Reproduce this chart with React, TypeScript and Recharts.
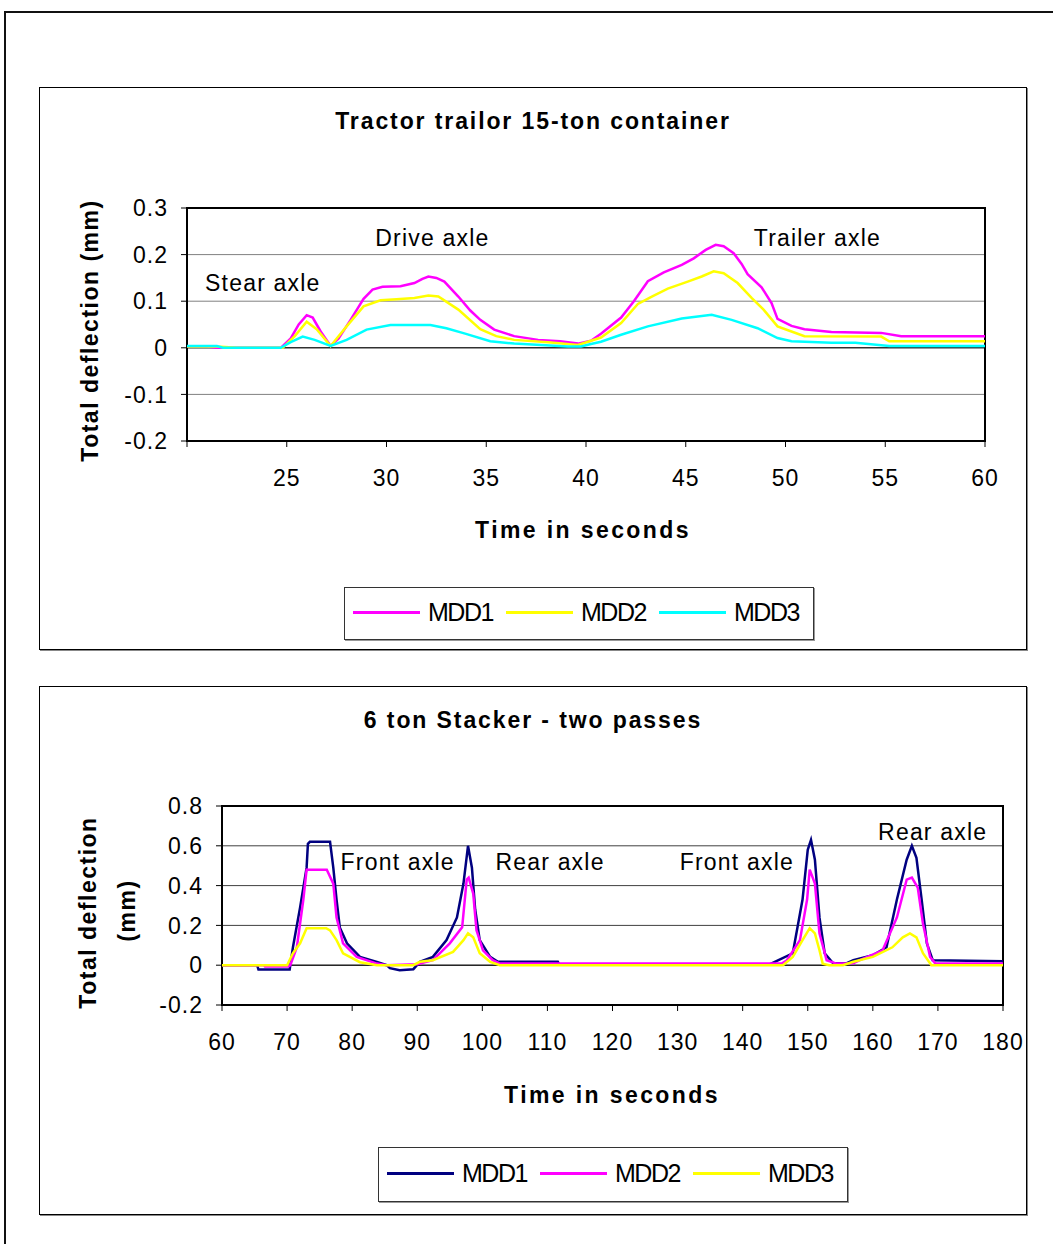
import React from "react"
import {
  LineChart,
  Line,
  XAxis,
  YAxis,
  CartesianGrid,
  ReferenceLine,
  ReferenceArea,
  ReferenceDot,
} from "recharts"

const FONT = '"Liberation Sans", Arial, sans-serif'

// --- Tractor trailor 15-ton container (time in s, deflection in mm) ---
const tractorMdd1Time = [20, 21, 21.5, 24.7, 25.2, 25.6, 26, 26.3, 26.7, 27.2, 27.6, 28.2, 28.85, 29.3, 29.8, 30.7, 31.4, 31.8, 32.1, 32.5, 32.9, 33.6, 34.2, 34.7, 35.4, 36.4, 37.6, 38.7, 39.6, 40.25, 40.75, 41.76, 42.4, 43.1, 43.9, 44.8, 45.4, 46, 46.5, 46.9, 47.4, 47.8, 48.1, 48.8, 49.3, 49.6, 50.3, 50.95, 52.3, 54.8, 55.8, 60]
const tractorMdd1 = [0.003, 0.003, 0, 0, 0.02, 0.05, 0.07, 0.065, 0.035, 0.004, 0.02, 0.06, 0.105, 0.125, 0.131, 0.132, 0.139, 0.148, 0.153, 0.15, 0.142, 0.11, 0.08, 0.06, 0.039, 0.025, 0.017, 0.014, 0.009, 0.015, 0.03, 0.065, 0.1, 0.143, 0.162, 0.178, 0.192, 0.21, 0.221, 0.218, 0.203, 0.18, 0.158, 0.13, 0.096, 0.062, 0.047, 0.04, 0.034, 0.032, 0.025, 0.025]

const tractorMdd2Time = [20, 21.5, 22.5, 24.8, 25.4, 26, 26.5, 27.2, 28, 28.85, 29.7, 30.5, 31.4, 32.1, 32.6, 33.6, 34.7, 35.5, 36.4, 38.1, 39.6, 40.75, 41.76, 42.6, 43.3, 44.1, 45.1, 45.8, 46.4, 46.9, 47.6, 48.3, 48.9, 49.6, 50.3, 50.95, 54.8, 55.2, 60]
const tractorMdd2 = [0.003, 0.003, 0, 0, 0.025, 0.056, 0.04, 0.004, 0.046, 0.089, 0.102, 0.104, 0.107, 0.112, 0.11, 0.082, 0.04, 0.025, 0.017, 0.012, 0.006, 0.022, 0.053, 0.094, 0.11, 0.127, 0.142, 0.153, 0.164, 0.16, 0.139, 0.107, 0.082, 0.046, 0.035, 0.025, 0.024, 0.014, 0.014]

const tractorMdd3Time = [20, 21.5, 21.8, 24.7, 25.2, 25.8, 26.4, 27.2, 28, 29, 30.2, 32.2, 33, 33.9, 35.2, 36.4, 39.1, 39.75, 40.25, 40.75, 41.76, 43.1, 44.8, 46.3, 47.3, 48.6, 49.6, 50.3, 52.3, 53.5, 55.2, 60]
const tractorMdd3 = [0.004, 0.004, 0, 0, 0.012, 0.024, 0.017, 0.004, 0.017, 0.039, 0.049, 0.049, 0.042, 0.031, 0.014, 0.009, 0.003, 0.003, 0.008, 0.013, 0.028, 0.046, 0.063, 0.071, 0.06, 0.042, 0.021, 0.014, 0.011, 0.011, 0.004, 0.004]

const tractorXTicks = [20, 25, 30, 35, 40, 45, 50, 55, 60]
const tractorYTicks = [-0.2, -0.1, 0, 0.1, 0.2, 0.3]
const tractorNotes = [
  { label: "Stear axle", t: 23.8, v: 0.14 },
  { label: "Drive axle", t: 32.3, v: 0.236 },
  { label: "Trailer axle", t: 51.6, v: 0.236 },
]

// --- 6 ton Stacker - two passes ---
const stackerMdd1Time = [60, 65.4, 65.6, 70.4, 70.9, 72, 73, 73.2, 73.5, 76.6, 77.1, 77.6, 78.1, 79.2, 81.2, 83.8, 85.3, 85.8, 87.3, 89.4, 90.4, 92.4, 94.5, 96.1, 97.1, 97.8, 98.4, 98.9, 99.6, 101.2, 102.4, 111.6, 111.8, 144.2, 147.7, 149.2, 150, 150.5, 151.1, 151.8, 152.6, 153.9, 156, 157, 160, 162.1, 163.7, 165.2, 166, 166.7, 167.5, 168.3, 169.2, 180]
const stackerMdd1 = [0, 0, -0.022, -0.022, 0.09, 0.29, 0.49, 0.61, 0.62, 0.62, 0.49, 0.33, 0.19, 0.11, 0.042, 0.017, 0, -0.015, -0.025, -0.02, 0.017, 0.042, 0.126, 0.24, 0.41, 0.6, 0.49, 0.28, 0.126, 0.042, 0.017, 0.017, 0.005, 0.005, 0.06, 0.33, 0.58, 0.63, 0.53, 0.24, 0.06, 0.01, 0.01, 0.025, 0.05, 0.09, 0.33, 0.53, 0.6, 0.54, 0.33, 0.11, 0.025, 0.02]

const stackerMdd2Time = [60, 66.4, 66.6, 70.2, 70.5, 71.5, 72.5, 73, 76.1, 77.1, 77.6, 78.6, 80.7, 83.8, 85.3, 90, 92.4, 95, 96.9, 97.6, 97.9, 98.6, 99.1, 100.1, 101.6, 102.7, 146, 146.8, 148.8, 149.9, 150.3, 151.1, 151.8, 152.9, 154.4, 157, 158, 161.5, 163.7, 165.2, 166, 166.9, 167.7, 168.8, 169.6, 180]
const stackerMdd2 = [0, 0, -0.006, -0.006, 0, 0.09, 0.33, 0.48, 0.48, 0.41, 0.24, 0.11, 0.042, 0.008, 0, 0.005, 0.025, 0.11, 0.19, 0.43, 0.44, 0.36, 0.176, 0.075, 0.025, 0.008, 0.008, 0.025, 0.126, 0.33, 0.48, 0.41, 0.16, 0.025, 0.008, 0.01, 0.025, 0.075, 0.24, 0.43, 0.44, 0.39, 0.21, 0.042, 0.008, 0.008]

const stackerMdd3Time = [60, 70, 70.9, 72, 73, 76, 76.6, 77.6, 78.6, 81.2, 83.8, 89.4, 90.4, 92.4, 95.5, 97.1, 97.8, 98.6, 99.6, 101.2, 102.7, 146.2, 147.7, 149.2, 150.3, 151.1, 151.8, 152.3, 153.3, 155.4, 157, 160, 163, 164.6, 165.7, 166.7, 167.7, 169, 180]
const stackerMdd3 = [0, 0, 0.06, 0.11, 0.186, 0.186, 0.175, 0.126, 0.06, 0.015, 0, 0, 0.017, 0.025, 0.067, 0.126, 0.16, 0.14, 0.06, 0.017, 0, 0, 0.042, 0.126, 0.186, 0.16, 0.075, 0.008, 0, 0, 0.017, 0.042, 0.09, 0.14, 0.16, 0.14, 0.06, 0, 0]

const stackerXTicks = [60, 70, 80, 90, 100, 110, 120, 130, 140, 150, 160, 170, 180]
const stackerYTicks = [-0.2, 0, 0.2, 0.4, 0.6, 0.8]
const stackerNotes = [
  { label: "Front axle", t: 87.0, v: 0.52 },
  { label: "Rear axle", t: 110.4, v: 0.52 },
  { label: "Front axle", t: 139.1, v: 0.52 },
  { label: "Rear axle", t: 169.2, v: 0.67 },
]

const toPoints = (times: number[], values: number[]) =>
  times.map((t, i) => ({ t, v: values[i] }))

const tickStyle = { fontSize: 23, fill: "#000", fontFamily: FONT, letterSpacing: 1 }

const NoteText = (label: string) => (p: any) => (
  <text
    x={p.cx}
    y={p.cy}
    textAnchor="middle"
    dominantBaseline="central"
    fontSize={23}
    fontFamily={FONT}
    fill="#000"
    style={{ letterSpacing: 1.2 }}
  >
    {label}
  </text>
)

interface SeriesDef {
  name: string
  color: string
  data: { t: number; v: number }[]
}

const boxStyle: React.CSSProperties = {
  position: "absolute",
  left: 39,
  width: 986,
  border: "1px solid #000",
  boxShadow: "1px 1px 0 #888",
  background: "#fff",
}

const textBase: React.CSSProperties = {
  position: "absolute",
  fontFamily: FONT,
  color: "#000",
  whiteSpace: "nowrap",
}

const CenterText: React.FC<{
  x: number
  y: number
  size: number
  bold?: boolean
  spacing?: number
  rotate?: boolean
  children: React.ReactNode
}> = ({ x, y, size, bold, spacing = 0, rotate, children }) => (
  <div
    style={{
      ...textBase,
      left: x - 300,
      top: y - size / 2,
      width: 600,
      height: size,
      lineHeight: `${size}px`,
      fontSize: size,
      fontWeight: bold ? "bold" : "normal",
      letterSpacing: spacing,
      textAlign: "center",
      transform: rotate ? "rotate(-90deg)" : undefined,
    }}
  >
    {children}
  </div>
)

const LegendBox: React.FC<{ left: number; top: number; height: number; series: SeriesDef[] }> = ({
  left,
  top,
  height,
  series,
}) => (
  <div
    style={{
      position: "absolute",
      left,
      top,
      width: 468,
      height: height - 2,
      border: "1px solid #333",
      boxShadow: "1px 1px 0 #999",
      background: "#fff",
    }}
  >
    {series.map((s, i) => (
      <React.Fragment key={s.name}>
        <div
          style={{
            position: "absolute",
            left: 8 + i * 153,
            top: height / 2 - 4,
            width: 67,
            height: 3,
            background: s.color,
          }}
        />
        <div
          style={{
            ...textBase,
            left: 83 + i * 153,
            top: height / 2 - 16,
            height: 26,
            lineHeight: "26px",
            fontSize: 25,
            letterSpacing: -1.5,
          }}
        >
          {s.name}
        </div>
      </React.Fragment>
    ))}
  </div>
)

const tractorSeries: SeriesDef[] = [
  { name: "MDD1", color: "#FF00FF", data: toPoints(tractorMdd1Time, tractorMdd1) },
  { name: "MDD2", color: "#FFFF00", data: toPoints(tractorMdd2Time, tractorMdd2) },
  { name: "MDD3", color: "#00FFFF", data: toPoints(tractorMdd3Time, tractorMdd3) },
]

const stackerSeries: SeriesDef[] = [
  { name: "MDD1", color: "#000080", data: toPoints(stackerMdd1Time, stackerMdd1) },
  { name: "MDD2", color: "#FF00FF", data: toPoints(stackerMdd2Time, stackerMdd2) },
  { name: "MDD3", color: "#FFFF00", data: toPoints(stackerMdd3Time, stackerMdd3) },
]

const TractorChart = () => (
  <div style={{ ...boxStyle, top: 87, height: 561 }}>
    <LineChart
      width={986}
      height={561}
      margin={{ top: 120, right: 41, left: 67, bottom: 168 }}
    >
      <CartesianGrid vertical={false} stroke="#808080" />
      <XAxis
        type="number"
        dataKey="t"
        domain={[20, 60]}
        ticks={tractorXTicks}
        allowDuplicatedCategory={false}
        tickFormatter={(v) => (v === 20 ? "" : String(v))}
        tick={tickStyle}
        tickSize={6}
        tickMargin={23}
        tickLine={{ stroke: "#000" }}
        axisLine={false}
        height={40}
      />
      <YAxis
        type="number"
        domain={[-0.2, 0.3]}
        ticks={tractorYTicks}
        tickFormatter={(v) => String(Math.round(v * 10) / 10)}
        tick={tickStyle}
        tickSize={6}
        tickMargin={13}
        tickLine={{ stroke: "#000" }}
        axisLine={false}
        width={80}
      />
      <ReferenceLine y={0} stroke="#000" strokeWidth={1} />
      <ReferenceArea x1={20} x2={60} y1={-0.2} y2={0.3} fill="none" stroke="#000" strokeWidth={2} />
      {tractorSeries.map((s) => (
        <Line
          key={s.name}
          data={s.data}
          dataKey="v"
          name={s.name}
          type="linear"
          stroke={s.color}
          strokeWidth={2.5}
          dot={false}
          isAnimationActive={false}
        />
      ))}
      {tractorNotes.map((n) => (
        <ReferenceDot key={n.label} x={n.t} y={n.v} r={0} shape={NoteText(n.label)} />
      ))}
    </LineChart>
  </div>
)

const StackerChart = () => (
  <div style={{ ...boxStyle, top: 686, height: 527 }}>
    <LineChart
      width={986}
      height={527}
      margin={{ top: 119, right: 23, left: 102, bottom: 169 }}
    >
      <CartesianGrid vertical={false} stroke="#404040" />
      <XAxis
        type="number"
        dataKey="t"
        domain={[60, 180]}
        ticks={stackerXTicks}
        allowDuplicatedCategory={false}
        tick={tickStyle}
        tickSize={6}
        tickMargin={23}
        tickLine={{ stroke: "#000" }}
        axisLine={false}
        height={40}
      />
      <YAxis
        type="number"
        domain={[-0.2, 0.8]}
        ticks={stackerYTicks}
        tickFormatter={(v) => String(Math.round(v * 10) / 10)}
        tick={tickStyle}
        tickSize={6}
        tickMargin={13}
        tickLine={{ stroke: "#000" }}
        axisLine={false}
        width={80}
      />
      <ReferenceLine y={0} stroke="#000" strokeWidth={1} />
      <ReferenceArea x1={60} x2={180} y1={-0.2} y2={0.8} fill="none" stroke="#000" strokeWidth={2} />
      {stackerSeries.map((s) => (
        <Line
          key={s.name}
          data={s.data}
          dataKey="v"
          name={s.name}
          type="linear"
          stroke={s.color}
          strokeWidth={2.5}
          dot={false}
          isAnimationActive={false}
        />
      ))}
      {stackerNotes.map((n, i) => (
        <ReferenceDot key={i} x={n.t} y={n.v} r={0} shape={NoteText(n.label)} />
      ))}
    </LineChart>
  </div>
)

export default function App() {
  return (
    <div
      style={{
        position: "absolute",
        left: 0,
        top: 0,
        width: 1053,
        height: 1244,
        overflow: "hidden",
        background: "#fff",
      }}
    >
      {/* outer page frame */}
      <div
        style={{
          position: "absolute",
          left: 4,
          top: 11,
          width: 1100,
          height: 1300,
          borderLeft: "2px solid #111",
          borderTop: "2px solid #111",
        }}
      />

      <TractorChart />
      <CenterText x={533} y={121} size={23} bold spacing={1.9}>
        Tractor trailor 15-ton container
      </CenterText>
      <CenterText x={90} y={330} size={23} bold spacing={1.5} rotate>
        Total deflection (mm)
      </CenterText>
      <CenterText x={583} y={530} size={23} bold spacing={2.4}>
        Time in seconds
      </CenterText>
      <LegendBox left={344} top={587} height={53} series={tractorSeries} />

      <StackerChart />
      <CenterText x={533} y={720} size={23} bold spacing={1.9}>
        6 ton Stacker - two passes
      </CenterText>
      <CenterText x={88} y={912} size={23} bold spacing={1.5} rotate>
        Total deflection
      </CenterText>
      <CenterText x={127} y={910} size={23} bold spacing={1.5} rotate>
        (mm)
      </CenterText>
      <CenterText x={612} y={1095} size={23} bold spacing={2.4}>
        Time in seconds
      </CenterText>
      <LegendBox left={378} top={1147} height={55} series={stackerSeries} />
    </div>
  )
}
